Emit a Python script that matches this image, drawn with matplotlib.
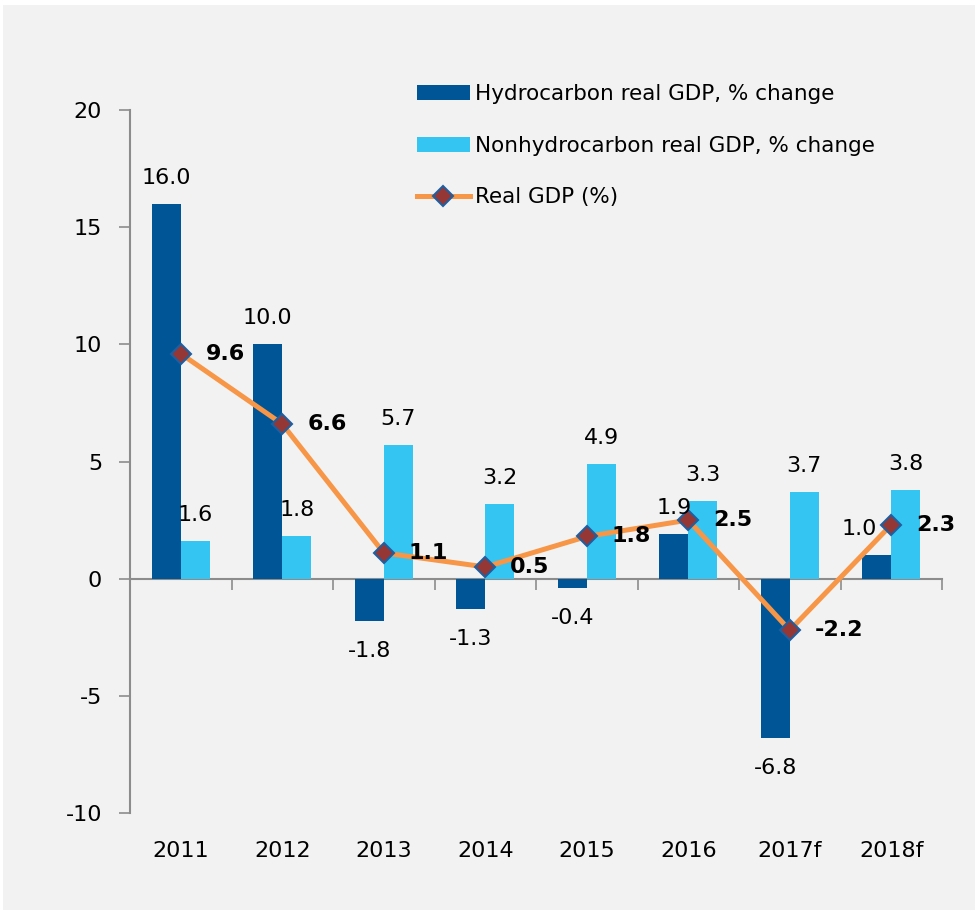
import matplotlib
matplotlib.use("Agg")
import matplotlib.pyplot as plt
import matplotlib.patches as mpatches
import numpy as np

years = ['2011', '2012', '2013', '2014', '2015', '2016', '2017f', '2018f']
hydro = [16.0, 10.0, -1.8, -1.3, -0.4, 1.9, -6.8, 1.0]
nonhydro = [1.6, 1.8, 5.7, 3.2, 4.9, 3.3, 3.7, 3.8]
gdp = [9.6, 6.6, 1.1, 0.5, 1.8, 2.5, -2.2, 2.3]
yticks = [-10, -5, 0, 5, 10, 15, 20]

DARK = '#005596'
LIGHT = '#35C5F2'
ORANGE = '#F79646'
MFILL = '#953735'
MEDGE = '#1F5FA0'
AXC = '#8c8c8c'
BG = '#f2f2f2'

plt.rcParams['font.family'] = ['DejaVu Sans']

fig = plt.figure(figsize=(9.75, 9.10), dpi=100)
fig.patch.set_facecolor('white')
fig.patches.append(mpatches.Rectangle((3 / 975, 0), 1, 1 - 5 / 910, transform=fig.transFigure,
                                      facecolor=BG, edgecolor='none', zorder=-10))

ax = fig.add_axes([130 / 975, 1 - 813 / 910, (942 - 130) / 975, (813 - 110) / 910])
ax.set_facecolor('none')

x = np.arange(len(years))
w = 0.286
b1 = ax.bar(x - w / 2, hydro, w, color=DARK, zorder=2, label='Hydrocarbon real GDP, % change')
b2 = ax.bar(x + w / 2, nonhydro, w, color=LIGHT, zorder=2, label='Nonhydrocarbon real GDP, % change')
ln, = ax.plot(x, gdp, color=ORANGE, lw=3.6, marker='D', ms=10, mfc=MFILL, mec=MEDGE, mew=1.5,
              zorder=4, label='Real GDP (%)')

FS = 16
LFS = 15.5
# bar labels
for i, v in enumerate(hydro):
    dx = -17 if i == 7 else 0
    if v >= 0:
        ax.annotate(f'{v:.1f}', (x[i] - w / 2, v), xytext=(dx, 16), textcoords='offset pixels',
                    ha='center', va='bottom', fontsize=FS, zorder=5)
    else:
        ax.annotate(f'{v:.1f}', (x[i] - w / 2, v), xytext=(dx, -20), textcoords='offset pixels',
                    ha='center', va='top', fontsize=FS, zorder=5)
for i, v in enumerate(nonhydro):
    ax.annotate(f'{v:.1f}', (x[i] + w / 2, v), xytext=(0, 16), textcoords='offset pixels',
                ha='center', va='bottom', fontsize=FS, zorder=5)
for i, v in enumerate(gdp):
    ax.annotate(f'{v:.1f}', (x[i], v), xytext=(25, 0), textcoords='offset pixels',
                ha='left', va='center', fontsize=FS, fontweight='bold', zorder=5)

ax.set_xlim(-0.5, len(years) - 0.5)
ax.set_ylim(-10, 20)
ax.set_yticks(yticks)
ax.set_yticklabels([str(t) for t in yticks])
ax.set_xticks(x)
ax.set_xticklabels(years)
ax.tick_params(axis='x', length=0, pad=20, labelsize=FS)
ax.tick_params(axis='y', length=8, width=1.2, color=AXC, pad=12, labelsize=FS, direction='out')

for s in ['top', 'right', 'bottom']:
    ax.spines[s].set_visible(False)
ax.spines['left'].set_color(AXC)
ax.spines['left'].set_linewidth(1.5)

sec = ax.secondary_xaxis(1 / 3)
sec.set_xticks(np.arange(-0.5, len(years), 1.0))
sec.set_xticklabels([])
sec.tick_params(axis='x', length=8, width=1.2, color=AXC, direction='out')
sec.spines['bottom'].set_color(AXC)
sec.spines['bottom'].set_linewidth(1.5)
for s in ['top', 'left', 'right']:
    sec.spines[s].set_visible(False)
sec.spines['bottom'].set_zorder(3)

leg = fig.legend(handles=[b1, b2, ln], loc='upper left', bbox_to_anchor=(417 / 975, 1 - 84 / 910),
                 frameon=False, fontsize=LFS, handlelength=2.45, handleheight=0.7,
                 handletextpad=0.25, labelspacing=1.47, borderaxespad=0, borderpad=0)

fig.savefig('out.png', dpi=100, facecolor=fig.get_facecolor())
